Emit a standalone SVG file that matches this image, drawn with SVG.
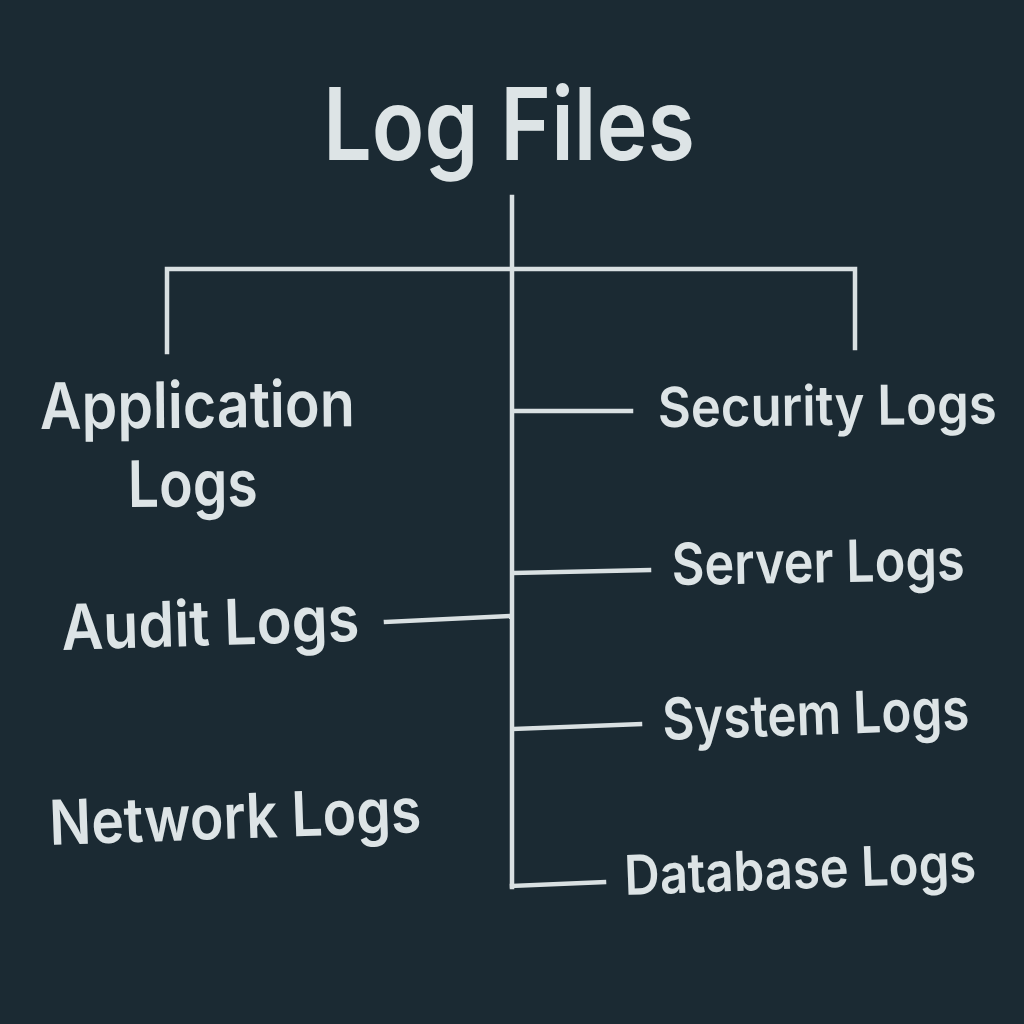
<svg xmlns="http://www.w3.org/2000/svg" width="1024" height="1024" viewBox="0 0 1024 1024">
<style>
.bg{fill:#1b2a33}
.t{fill:#dde4e6;font-family:Inter,"Noto Sans","Liberation Sans",sans-serif;font-weight:600}
.c{stroke:#d9e0e2;stroke-width:4.5;fill:none;stroke-linecap:square}
</style>
<rect class="bg" x="0" y="0" width="1024" height="1024"/>
<g id="connectors">
<line class="c" x1="512" y1="197" x2="512" y2="887"/>
<polyline class="c" points="167,352 167,269 855,269 855,348"/>
<line class="c" x1="386" y1="622" x2="510" y2="616"/>
<line class="c" x1="514" y1="411" x2="631" y2="411"/>
<line class="c" x1="514" y1="573" x2="649" y2="570"/>
<line class="c" x1="514" y1="729" x2="640" y2="724"/>
<line class="c" x1="512" y1="886" x2="604" y2="882"/>
</g>
<g id="title"><text class="t" x="323" y="160" font-size="100" textLength="372" lengthAdjust="spacingAndGlyphs">Log Files</text></g>
<g id="application-logs">
<text class="t" x="40" y="429" font-size="64" textLength="315" lengthAdjust="spacingAndGlyphs" transform="rotate(-0.5 40 429)">Application</text>
<text class="t" x="128" y="507" font-size="64" textLength="130" lengthAdjust="spacingAndGlyphs" transform="rotate(-0.5 128 507)">Logs</text>
</g>
<g id="audit-logs"><text class="t" x="62" y="650" font-size="63" textLength="298" lengthAdjust="spacingAndGlyphs" transform="rotate(-1.8 62 650)">Audit Logs</text></g>
<g id="network-logs"><text class="t" x="50" y="845" font-size="62" textLength="372" lengthAdjust="spacingAndGlyphs" transform="rotate(-2 50 845)">Network Logs</text></g>
<g id="security-logs"><text class="t" x="658" y="427" font-size="55" textLength="339" lengthAdjust="spacingAndGlyphs" transform="rotate(-0.6 658 427)">Security Logs</text></g>
<g id="server-logs"><text class="t" x="672" y="585" font-size="58" textLength="293" lengthAdjust="spacingAndGlyphs" transform="rotate(-1 672 585)">Server Logs</text></g>
<g id="system-logs"><text class="t" x="663" y="740" font-size="58" textLength="307" lengthAdjust="spacingAndGlyphs" transform="rotate(-2 663 740)">System Logs</text></g>
<g id="database-logs"><text class="t" x="625" y="895" font-size="55" textLength="352" lengthAdjust="spacingAndGlyphs" transform="rotate(-2.1 625 895)">Database Logs</text></g>
</svg>
